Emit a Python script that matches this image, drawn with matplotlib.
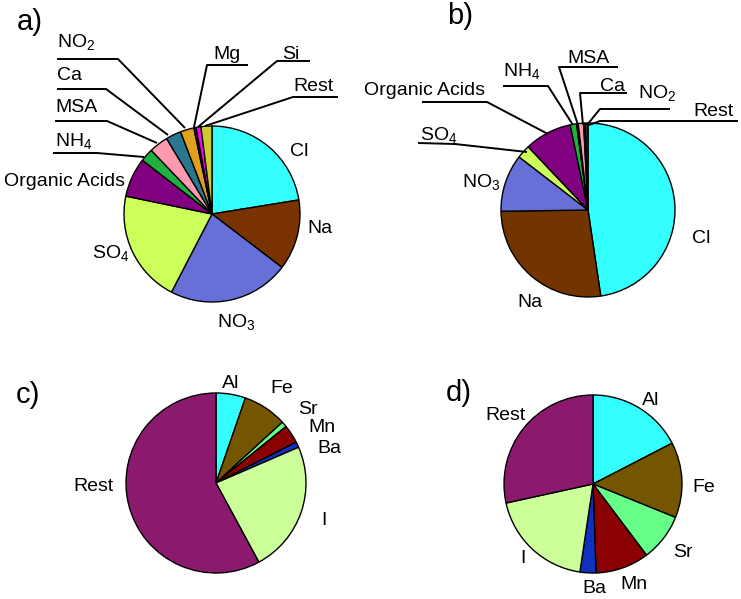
import matplotlib
matplotlib.use("Agg")
import matplotlib.pyplot as plt

plt.rcParams['font.family'] = ['Liberation Sans', 'DejaVu Sans']
plt.rcParams['mathtext.fontset'] = 'custom'
plt.rcParams['mathtext.rm'] = 'Liberation Sans'
plt.rcParams['mathtext.it'] = 'Liberation Sans:italic'

H = 599

# a) ions, coarse mode
ions_a = ["Cl", "Na", "NO3", "SO4", "Organic Acids", "NH4", "MSA", "Ca", "NO2", "Mg", "Si", "Rest"]
vals_a = [22.4, 12.9, 22.2, 20.6, 7.2, 2.4, 3.5, 2.8, 2.5, 0.4, 0.9, 2.0]
cols_a = ['#33ffff', '#7a3300', '#6670d6', '#ccff5a', '#800080', '#20b040',
          '#ff99b0', '#2a7890', '#e0a020', '#303030', '#ff00ff', '#cccc30']

# b) ions, fine mode
ions_b = ["Cl", "Na", "NO3", "SO4", "Organic Acids", "NH4", "MSA", "Ca", "NO2", "Rest"]
vals_b = [47.8, 27.2, 10.7, 2.5, 8.8, 1.2, 0.3, 1.0, 0.3, 0.5]
cols_b = ['#33ffff', '#733500', '#6670d6', '#ccff5a', '#800080', '#20b040',
          '#303030', '#ff99b0', '#303030', '#303030']

# c) / d) elements
elem = ["Al", "Fe", "Sr", "Mn", "Ba", "I", "Rest"]
vals_c = [5.3, 7.9, 1.0, 3.3, 1.0, 23.6, 57.9]
vals_d = [17.4, 13.7, 8.6, 9.7, 2.9, 19.2, 28.4]
cols_e = ['#33ffff', '#745500', '#66ff88', '#8b0000', '#1030c0', '#ccff99', '#8b1a6e']

fig = plt.figure(figsize=(7.41, 5.99), dpi=100)
ax = fig.add_axes([0, 0, 1, 1])
ax.set_xlim(0, 741)
ax.set_ylim(0, H)
ax.set_aspect('equal')
ax.axis('off')

def torte(werte, farben, cx, cy, r):
    ax.pie(werte, colors=farben, startangle=90, counterclock=False,
           center=(cx, H - cy), radius=r,
           wedgeprops=dict(edgecolor='black', linewidth=1.0))

torte(vals_a, cols_a, 212, 214, 88)
torte(vals_b, cols_b, 588, 210, 87)
torte(vals_c, cols_e, 216, 483, 90)
torte(vals_d, cols_e, 593, 484, 89)
ax.set_xlim(0, 741)
ax.set_ylim(0, H)

def schrift(s):
    # subscripts for NO3, SO4 ...
    for k in ["NO2", "NO3", "SO4", "NH4"]:
        if s == k:
            return k[:-1] + r'$_\mathregular{' + k[-1] + '}$'
    return s

fs = 14
# label positions: (left x, baseline y) in pixel coords from top
pos_a = {"NO2": (57, 47), "Ca": (57, 80), "MSA": (55, 112), "NH4": (55, 146),
         "Organic Acids": (4, 186), "Mg": (213, 59), "Si": (282, 59), "Rest": (293, 91),
         "Cl": (290, 156), "Na": (307, 233), "NO3": (217, 327), "SO4": (92, 258)}
pos_b = {"Organic Acids": (364, 95), "SO4": (420, 140), "NH4": (503, 76), "MSA": (567, 63),
         "Ca": (600, 91), "NO2": (638, 98), "Rest": (693, 116), "NO3": (462, 187),
         "Cl": (692, 243), "Na": (517, 307)}
pos_c = {"Al": (222, 388), "Fe": (270, 393), "Sr": (298, 414), "Mn": (308, 432),
         "Ba": (317, 453), "Rest": (73, 491), "I": (321, 525)}
pos_d = {"Al": (642, 405), "Rest": (485, 420), "Fe": (692, 492), "Sr": (673, 557),
         "Mn": (620, 589), "Ba": (582, 593), "I": (520, 563)}

for pos in [pos_a, pos_b, pos_c, pos_d]:
    for name, (x, y) in pos.items():
        ax.text(x, H - y, schrift(name), fontsize=fs, ha='left', va='baseline')

# leader lines
linien = [
    [(57, 59), (118, 59), (185, 128)],
    [(57, 89), (106, 89), (168, 135)],
    [(55, 121), (107, 121), (157, 143)],
    [(53, 153), (97, 153), (144, 157)],
    [(248, 65), (207, 65), (194, 127)],
    [(310, 61), (277, 61), (198, 127)],
    [(338, 97), (293, 97), (205, 126)],
    [(422, 102), (487, 102), (548, 134)],
    [(418, 143), (455, 144), (527, 152)],
    [(503, 86), (548, 86), (573, 125)],
    [(618, 67), (559, 67), (578, 125)],
    [(627, 93), (580, 93), (583, 125)],
    [(670, 109), (600, 109), (587, 125)],
    [(738, 121), (600, 121), (589, 125)],
]
for l in linien:
    ax.plot([p[0] for p in l], [H - p[1] for p in l], color='black', lw=1.4,
            solid_capstyle='butt')

for t, (x, y) in zip(["a)", "b)", "c)", "d)"], [(30, 22), (460, 16), (28, 395), (459, 393)]):
    ax.text(x, H - y, t, fontsize=21, ha='center', va='center')

fig.savefig("out.png", dpi=100)
